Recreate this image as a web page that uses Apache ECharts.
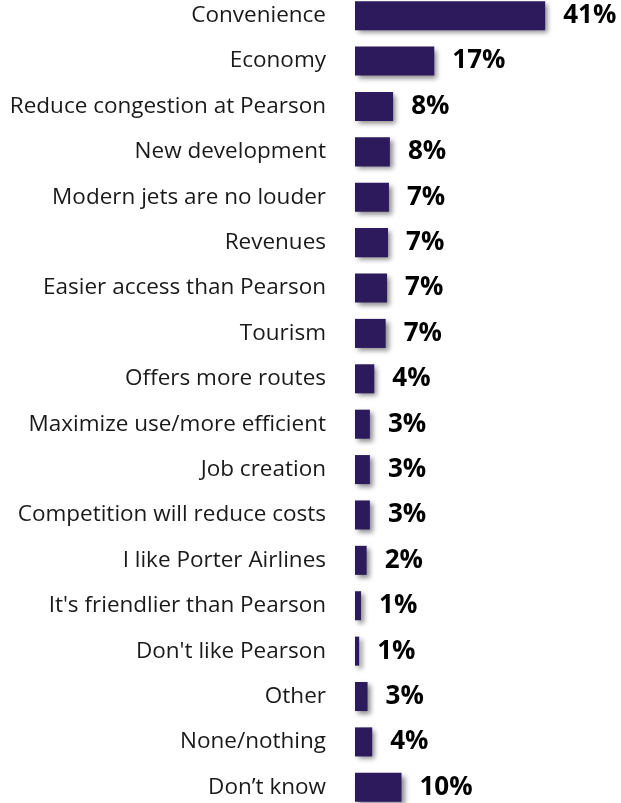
<!DOCTYPE html>
<html>
<head>
<meta charset="utf-8">
<script src="https://cdn.jsdelivr.net/npm/echarts@6/dist/echarts.min.js"></script>
<style>
  html, body { margin: 0; padding: 0; background: #fff; }
  #main { width: 621px; height: 803px; }
</style>
</head>
<body>
<div id="main"></div>
<script>
// 类别（从上到下）
var categories = [
    'Convenience', 'Economy', 'Reduce congestion at Pearson', 'New development',
    'Modern jets are no louder', 'Revenues', 'Easier access than Pearson', 'Tourism',
    'Offers more routes', 'Maximize use/more efficient', 'Job creation',
    'Competition will reduce costs', 'I like Porter Airlines', "It's friendlier than Pearson",
    "Don't like Pearson", 'Other', 'None/nothing', 'Don\u2019t know'
];
// 条形长度（按图估计）
var values = [40.9, 17.05, 8.2, 7.5, 7.3, 7.1, 6.9, 6.6, 4.15, 3.2, 3.2, 3.2, 2.5, 1.3, 0.9, 2.7, 3.7, 10.0];
// 显示的百分比
var labels = ['41%', '17%', '8%', '8%', '7%', '7%', '7%', '7%', '4%', '3%', '3%', '3%', '2%', '1%', '1%', '3%', '4%', '10%'];

var myChart = echarts.init(document.getElementById('main'));

var option = {
    animation: false,
    grid: { left: 355, right: 33.5, top: -7, bottom: -7, outerBoundsMode: 'none', containLabel: false },
    xAxis: {
        type: 'value',
        min: 0,
        max: 50,
        show: false
    },
    yAxis: {
        type: 'category',
        inverse: true,
        data: categories,
        axisLine: { show: false },
        axisTick: { show: false },
        axisLabel: {
            margin: 29,
            fontFamily: 'Open Sans',
            fontSize: 22.5,
            color: '#1a1a1a'
        }
    },
    series: [{
        type: 'bar',
        data: values,
        barCategoryGap: '36%',
        itemStyle: {
            color: '#2d1a5c',
            shadowColor: 'rgba(0,0,0,0.45)',
            shadowBlur: 5,
            shadowOffsetX: 3,
            shadowOffsetY: 3
        },
        label: {
            show: true,
            position: 'right',
            distance: 18,
            fontFamily: 'Open Sans',
            fontWeight: 'bold',
            fontSize: 26,
            color: '#000',
            formatter: function (p) { return labels[p.dataIndex]; }
        }
    }]
};

myChart.setOption(option);
</script>
</body>
</html>
